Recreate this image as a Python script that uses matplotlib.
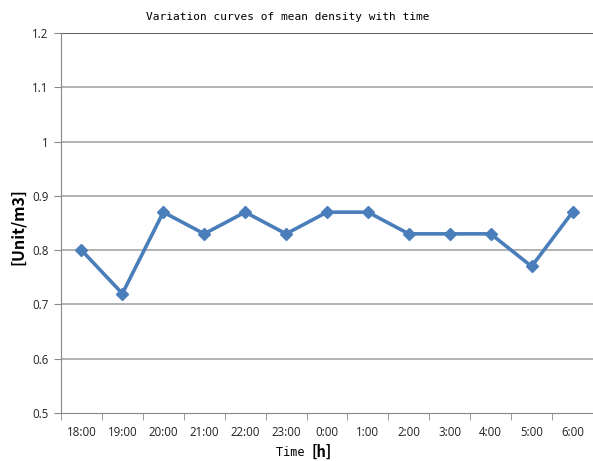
import numpy as np
import matplotlib.pyplot as plt

# data
times = ['18:00', '19:00', '20:00', '21:00', '22:00', '23:00', '0:00',
         '1:00', '2:00', '3:00', '4:00', '5:00', '6:00']
density = [0.80, 0.72, 0.87, 0.83, 0.87, 0.83, 0.87, 0.87, 0.83, 0.83, 0.83, 0.77, 0.87]
yticks = [0.5, 0.6, 0.7, 0.8, 0.9, 1.0, 1.1, 1.2]
ytick_labels = ['0.5', '0.6', '0.7', '0.8', '0.9', '1', '1.1', '1.2']

fig = plt.figure(figsize=(5.93, 4.61), dpi=100)
ax = fig.add_axes([61/593, 48/461, 532/593, 380/461])

x = np.arange(len(times))
ax.plot(x, density, color='#4a7ebb', lw=2.6, marker='D', ms=6.5,
        markerfacecolor='#4a7ebb', markeredgecolor='#4a7ebb', zorder=3)

ax.set_xlim(-0.5, len(times) - 0.5)
ax.set_ylim(0.5, 1.2)

# horizontal gridlines
for v in yticks[1:-1]:
    ax.axhline(v, color='#a6a6a6', lw=1.2, zorder=1)
ax.axhline(1.2, color='#404040', lw=1.2, zorder=1)

ax.set_yticks(yticks)
ax.set_yticklabels(ytick_labels, fontsize=8.3, family='Open Sans', color='#222222')
ax.set_xticks(x)
ax.set_xticklabels(times, fontsize=8.3, family='Open Sans', color='#222222')
ax.tick_params(axis='x', length=0, pad=9)
ax.set_xticks(np.arange(len(times) + 1) - 0.5, minor=True)
ax.tick_params(axis='x', which='minor', length=5, color='#888888', direction='out')
ax.tick_params(axis='y', length=5, color='#888888', direction='out', pad=4)

for s in ['top', 'right']:
    ax.spines[s].set_visible(False)
ax.spines['left'].set_color('#888888')
ax.spines['bottom'].set_color('#888888')

fig.text(0.485, 1 - 17/461, 'Variation curves of mean density with time', ha='center', va='center',
         fontsize=8, family='DejaVu Sans Mono')
fig.text(18/593, 0.5 + 4/461, '[Unit/m3]', rotation=90, ha='center', va='center',
         fontsize=11.5, fontweight='bold', family='Noto Sans CJK SC')
fig.text(0.525, 1 - 452/461, 'Time ', ha='right', va='center', fontsize=8.5, family='DejaVu Sans Mono')
fig.text(0.525, 1 - 452/461, '[h]', ha='left', va='center', fontsize=10.5, fontweight='bold',
         family='Noto Sans CJK SC')

fig.savefig('out.png', dpi=100)
